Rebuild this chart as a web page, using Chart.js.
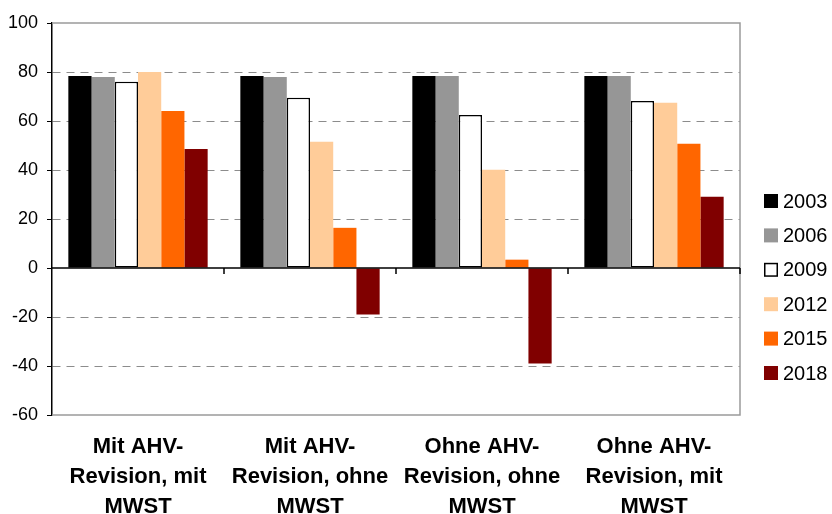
<!DOCTYPE html>
<html>
<head>
<meta charset="utf-8">
<script src="https://cdn.jsdelivr.net/npm/chart.js@4"></script>
<style>
  body { margin: 0; background: #fff; }
</style>
</head>
<body>
<canvas id="chart" width="832" height="514"></canvas>
<script>
// data
const categories = [
  ["Mit AHV-", "Revision, mit", "MWST"],
  ["Mit AHV-", "Revision, ohne", "MWST"],
  ["Ohne AHV-", "Revision, ohne", "MWST"],
  ["Ohne AHV-", "Revision, mit", "MWST"]
];
const years = ["2003", "2006", "2009", "2012", "2015", "2018"];
const values2003 = [78.4, 78.4, 78.4, 78.4];
const values2006 = [78, 78, 78.4, 78.4];
const values2009 = [76, 69.5, 62.5, 68.2];
const values2012 = [80, 51.5, 40.1, 67.4];
const values2015 = [64.1, 16.4, 3.4, 50.7];
const values2018 = [48.6, -19, -39, 29.1];
const yMin = -60;
const yMax = 100;
const yStep = 20;

const FONT = '"Liberation Sans", Arial, sans-serif';
const colors = ["#000000", "#969696", "#ffffff", "#ffcc99", "#ff6600", "#800000"];
const seriesValues = [values2003, values2006, values2009, values2012, values2015, values2018];

// plot frame, zero axis and category tick marks
const framePlugin = {
  id: "frame",
  beforeDatasetsDraw(chart) {
    const { ctx, chartArea: a } = chart;
    ctx.save();
    ctx.strokeStyle = "#9a9a9a";
    ctx.lineWidth = 1.5;
    ctx.beginPath();
    ctx.moveTo(a.left, a.top);
    ctx.lineTo(a.right, a.top);
    ctx.lineTo(a.right, a.bottom);
    ctx.lineTo(a.left, a.bottom);
    ctx.stroke();
    ctx.restore();
  },
  afterDatasetsDraw(chart) {
    const { ctx, chartArea: a, scales: { x, y } } = chart;
    const y0 = y.getPixelForValue(0);
    ctx.save();
    ctx.strokeStyle = "#000";
    ctx.lineWidth = 1.5;
    ctx.beginPath();
    ctx.moveTo(a.left, y0);
    ctx.lineTo(a.right, y0);
    for (let i = 0; i < categories.length; i++) {
      const px = x.getPixelForValue(i + 0.5);
      ctx.moveTo(px, y0);
      ctx.lineTo(px, y0 + 6);
    }
    ctx.stroke();
    ctx.restore();
  }
};

// legend on the right, square markers
const legendPlugin = {
  id: "sideLegend",
  afterDraw(chart) {
    const { ctx, chartArea: a } = chart;
    ctx.save();
    ctx.font = "20px " + FONT;
    ctx.textBaseline = "middle";
    chart.data.datasets.forEach((ds, i) => {
      const cy = a.top + 178 + i * 34.4;
      const bx = a.right + 24;
      ctx.fillStyle = ds.backgroundColor;
      ctx.fillRect(bx, cy - 7, 14, 14);
      if (ds.borderWidth) {
        ctx.strokeStyle = ds.borderColor;
        ctx.lineWidth = 1.5;
        ctx.strokeRect(bx + 0.75, cy - 6.25, 12.5, 12.5);
      }
      ctx.fillStyle = "#000";
      ctx.fillText(ds.label, bx + 19, cy + 1);
    });
    ctx.restore();
  }
};

const chart = new Chart(document.getElementById("chart"), {
  type: "bar",
  data: {
    labels: categories,
    datasets: years.map((yr, i) => ({
      label: yr,
      data: seriesValues[i],
      backgroundColor: colors[i],
      borderColor: "#000",
      borderWidth: i === 2 ? 1.5 : 0,
      borderSkipped: false,
      categoryPercentage: 0.81,
      barPercentage: 1
    }))
  },
  options: {
    responsive: false,
    animation: false,
    layout: { padding: { top: 23, right: 92, left: 0, bottom: 0 } },
    plugins: {
      legend: { display: false },
      tooltip: { enabled: false }
    },
    scales: {
      x: {
        afterFit: (s) => { s.height = 99; },
        grid: { display: false, drawTicks: false },
        border: { display: false },
        ticks: {
          color: "#000",
          padding: 17,
          maxRotation: 0,
          autoSkip: false,
          font: { family: FONT, size: 22, weight: "bold", lineHeight: 1.36 }
        }
      },
      y: {
        min: yMin,
        max: yMax,
        afterFit: (s) => { s.width = 52; },
        ticks: {
          stepSize: yStep,
          color: "#000",
          padding: 9,
          font: { family: FONT, size: 18 }
        },
        border: { color: "#000", width: 1.5, dash: [8, 6] },
        grid: {
          color: (c) => {
            const v = c.tick ? c.tick.value : null;
            return (v === 0 || v === yMin || v === yMax) ? "rgba(0,0,0,0)" : "#8c8c8c";
          },
          lineWidth: 1,
          tickColor: "#000",
          tickLength: 5,
          tickBorderDash: []
        }
      }
    }
  },
  plugins: [framePlugin, legendPlugin]
});
</script>
</body>
</html>
